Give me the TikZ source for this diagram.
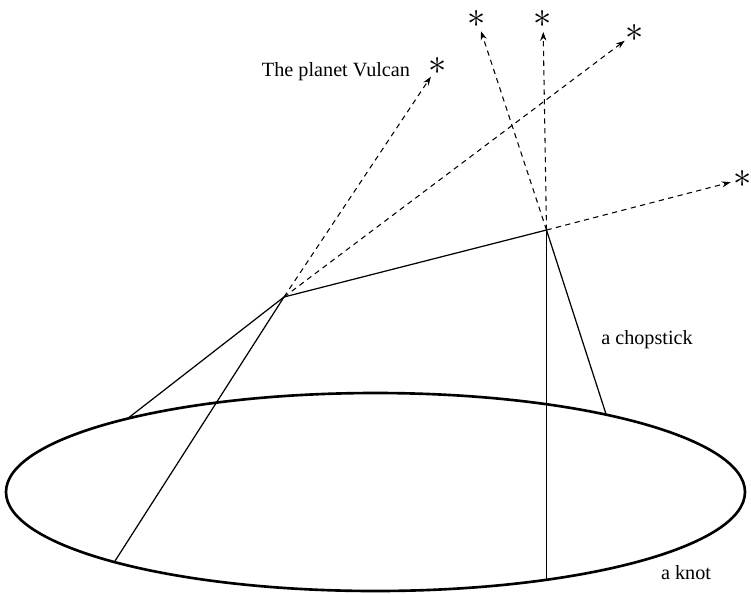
\documentclass[tikz,border=0pt]{standalone}
\usepackage{fontspec}
\setmainfont{Liberation Serif}
\usetikzlibrary{arrows.meta}

\begin{document}
\begin{tikzpicture}[x=0.02cm,y=-0.02cm,
    every node/.style={font=\fontsize{11.5}{13}\selectfont},
    stick/.style={line width=0.7pt},
    ray/.style={line width=0.6pt,dash pattern=on 3pt off 2.5pt,
      -{Stealth[length=5pt,width=3.5pt]}},
    starnode/.style={circle,inner sep=0pt,minimum size=0.5cm,
      font=\fontsize{20}{20}\selectfont}]
    \useasboundingbox (0,0) rectangle (751,593);

    % 椭圆：纽结
    \def\rx{369.5}
    \def\ry{99}
    \coordinate (Kc) at (375.5,492);
    \draw[line width=1.5pt] (Kc) ellipse ({\rx} and {\ry});

    % 两个顶点
    \coordinate (A) at (284,297);
    \coordinate (B) at (546.5,230);

    % 落在纽结上的端点
    \coordinate (A1) at (127,419);
    \coordinate (A2) at (115,561);
    \coordinate (B1) at (546.5,580);
    \coordinate (B2) at (606,414);

    % 筷子
    \draw[stick] (A) -- (B);
    \draw[stick] (A) -- (A1);
    \draw[stick] (A) -- (A2);
    \draw[stick] (B) -- (B1);
    \draw[stick] (B) -- (B2);

    % 星星
    \node[starnode] (vul) at (438,66) {$\ast$};
    \node[starnode] (s1) at (477,19) {$\ast$};
    \node[starnode] (s2) at (543,19) {$\ast$};
    \node[starnode] (s3) at (635,33) {$\ast$};
    \node[starnode] (s4) at (743,179) {$\ast$};

    % 虚线：视线
    \draw[ray] (A) -- (vul);
    \draw[ray] (A) -- (s3);
    \draw[ray] (B) -- (s1);
    \draw[ray] (B) -- (s2);
    \draw[ray] (B) -- (s4);

    % 文字
    \node (vulcan) at (336,72) {The planet Vulcan};
    \node (chop) at (647,340) {a chopstick};
    \node (knot) at (686,573) {a knot};

\end{tikzpicture}
\end{document}
